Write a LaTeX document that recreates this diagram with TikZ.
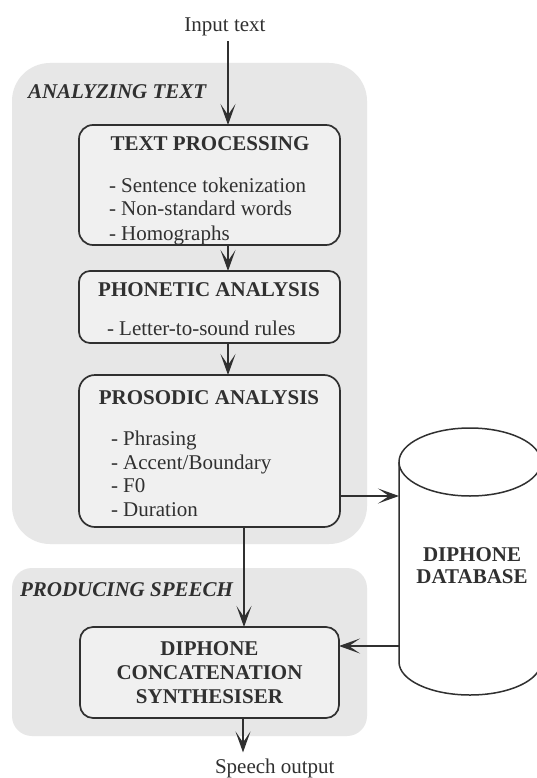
\documentclass[tikz,border=0pt]{standalone}
\usepackage{fontspec}
\setmainfont{Liberation Serif}
\usetikzlibrary{arrows.meta}

\definecolor{ink}{HTML}{303030}
\definecolor{region}{HTML}{E7E7E7}
\definecolor{boxfill}{HTML}{F0F0F0}

\begin{document}
\begin{tikzpicture}[x=1pt,y=-1pt,
  every node/.style={text=ink, inner sep=0pt, outer sep=0pt},
  group/.style={fill=region, rounded corners=#1},
  stage/.style={draw=ink, line width=1.7pt, fill=boxfill, rounded corners=#1},
  stage/.default=14pt,
  title/.style={font=\fontsize{21}{24}\selectfont\bfseries},
  item/.style={font=\fontsize{21}{24}\selectfont, anchor=base west},
  plain/.style={font=\fontsize{21}{24}\selectfont},
  grouplabel/.style={font=\fontsize{21}{24}\selectfont\bfseries\itshape, anchor=base west},
  flow/.style={draw=ink, line width=1.8pt, -{Stealth[length=21pt,width=15pt,inset=11pt]}},
  dbline/.style={draw=ink, line width=1.5pt},
]
% page
\fill[white] (0,0) rectangle (536,778);
\useasboundingbox (0,0) rectangle (536,778);

% the two stages of the system
\node[group=38pt, minimum width=355pt, minimum height=481pt] (analyze) at (189.5,303.5) {};
\node[group=20pt, minimum width=355pt, minimum height=168pt] (produce) at (189.5,652) {};
\node[grouplabel] (analyzelbl) at (28,99) {ANALYZING TEXT};
\node[grouplabel] (producelbl) at (20,596) {PRODUCING SPEECH};

% processing modules
\node[stage, minimum width=261pt, minimum height=120pt] (tp) at (209.5,185) {};
\node[title, anchor=base] (tptitle) at (210,151) {TEXT PROCESSING};
\node[item] (tp1) at (109,192) {- Sentence tokenization};
\node[item] (tp2) at (109,215) {- Non-standard words};
\node[item] (tp3) at (109,240) {- Homographs};

\node[stage=11pt, minimum width=261pt, minimum height=72pt] (pa) at (209.5,307) {};
\node[title, anchor=base] (patitle) at (209,296) {PHONETIC ANALYSIS};
\node[item] (pa1) at (107,335) {- Letter-to-sound rules};

\node[stage=16pt, minimum width=261pt, minimum height=152pt] (pr) at (209.5,451) {};
\node[title, anchor=base] (prtitle) at (209,404) {PROSODIC ANALYSIS};
\node[item] (pr1) at (111,445) {- Phrasing};
\node[item] (pr2) at (111,469) {- Accent/Boundary};
\node[item] (pr3) at (111,492) {- F0};
\node[item] (pr4) at (111,516) {- Duration};

\node[stage=13pt, minimum width=259pt, minimum height=91pt, title, align=center]
  (syn) at (209.5,672.5) {DIPHONE\\CONCATENATION\\SYNTHESISER};

% diphone database cylinder
\draw[dbline, fill=white] (399,462) -- (399,662)
  arc[start angle=180, end angle=360, x radius=71pt, y radius=33pt]
  -- (541,462);
\draw[dbline, fill=white] (470,462) ellipse [x radius=71pt, y radius=34pt];
\node[title, align=center, font=\fontsize{21}{22}\selectfont\bfseries] (db) at (472,566) {DIPHONE\\DATABASE};
\coordinate (dbin) at (399,496);
\coordinate (dbout) at (399,646);

% input and output
\node[plain, anchor=base] (input) at (225,32) {Input text};
\node[plain, anchor=base west] (output) at (215,773) {Speech output};

% connectors
\draw[flow, shorten <=5pt] ([xshift=3pt]input.south) -- ([xshift=18.5pt]tp.north);
\draw[flow] ([xshift=18.5pt]tp.south) -- ([xshift=18.5pt]pa.north);
\draw[flow] ([xshift=18.5pt]pa.south) -- ([xshift=18.5pt]pr.north);
\draw[flow] ([xshift=34.5pt]pr.south) -- ([xshift=34.5pt]syn.north);
\draw[flow] ([yshift=-45pt]pr.east) -- (dbin);
\draw[flow] (dbout) -- (dbout -| syn.east);
\draw[flow, shorten >=6pt] ([xshift=33.5pt]syn.south) -- ([xshift=28pt]output.north west);
\end{tikzpicture}
\end{document}
